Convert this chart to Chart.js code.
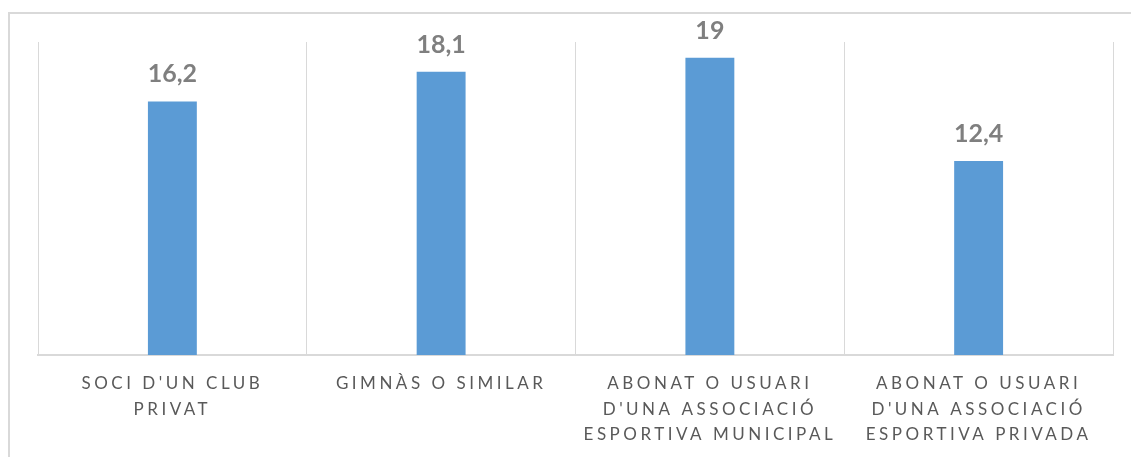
<!DOCTYPE html>
<html>
<head>
<meta charset="utf-8">
<script src="https://cdn.jsdelivr.net/npm/chart.js@4"></script>
<style>
    html, body { margin: 0; padding: 0; background: #fff; }
    body { width: 1131px; height: 457px; position: relative; overflow: hidden; }
    .frame {
        position: absolute; left: 8px; top: 12px;
        width: 1200px; height: 500px;
        border: 2px solid #d9d9d9;
    }
    #chartWrap { position: absolute; left: 0; top: 0; width: 1131px; height: 457px; }
</style>
</head>
<body>
<div class="frame"></div>
<div id="chartWrap"><canvas id="chart"></canvas></div>
<script>
// Chart data
const categories = [
    ["SOCI D'UN CLUB", "PRIVAT"],
    ["GIMNÀS O SIMILAR"],
    ["ABONAT O USUARI", "D'UNA ASSOCIACIÓ", "ESPORTIVA MUNICIPAL"],
    ["ABONAT O USUARI", "D'UNA ASSOCIACIÓ", "ESPORTIVA PRIVADA"]
];
const values = [16.2, 18.1, 19, 12.4];
const yMin = 0;
const yMax = 20;

// Letter spacing for the category labels
const spacingPlugin = {
    id: 'spacing',
    beforeDraw(chart) {
        chart.ctx.letterSpacing = '3.5px';
    }
};

// Bold value labels above the bars
const valueLabels = {
    id: 'valueLabels',
    afterDatasetsDraw(chart) {
        const ctx = chart.ctx;
        const meta = chart.getDatasetMeta(0);
        ctx.save();
        ctx.letterSpacing = '0px';
        ctx.font = 'bold 25px Lato';
        ctx.fillStyle = '#7f7f7f';
        ctx.textAlign = 'center';
        ctx.textBaseline = 'alphabetic';
        meta.data.forEach((bar, i) => {
            ctx.fillText(String(values[i]).replace('.', ','), bar.x, bar.y - 19);
        });
        ctx.restore();
    }
};

const ctx = document.getElementById('chart');
new Chart(ctx, {
    type: 'bar',
    data: {
        labels: categories,
        datasets: [{
            data: values,
            backgroundColor: '#5b9bd5',
            borderWidth: 0,
            barPercentage: 0.182,
            categoryPercentage: 1
        }]
    },
    options: {
        responsive: true,
        maintainAspectRatio: false,
        animation: false,
        layout: {
            padding: { left: 38, right: 18, top: 42, bottom: 0 }
        },
        plugins: {
            legend: { display: false },
            tooltip: { enabled: false }
        },
        scales: {
            x: {
                offset: true,
                grid: {
                    offset: true,
                    color: '#d9d9d9',
                    lineWidth: 1,
                    drawTicks: false
                },
                border: { color: '#d9d9d9', width: 2 },
                ticks: {
                    color: '#595959',
                    font: { family: 'Lato', size: 17, lineHeight: 1.5 },
                    padding: 16,
                    maxRotation: 0,
                    autoSkip: false
                },
                afterFit(scale) {
                    scale.height = 102;
                }
            },
            y: {
                display: false,
                min: yMin,
                max: yMax
            }
        }
    },
    plugins: [spacingPlugin, valueLabels]
});
</script>
</body>
</html>
